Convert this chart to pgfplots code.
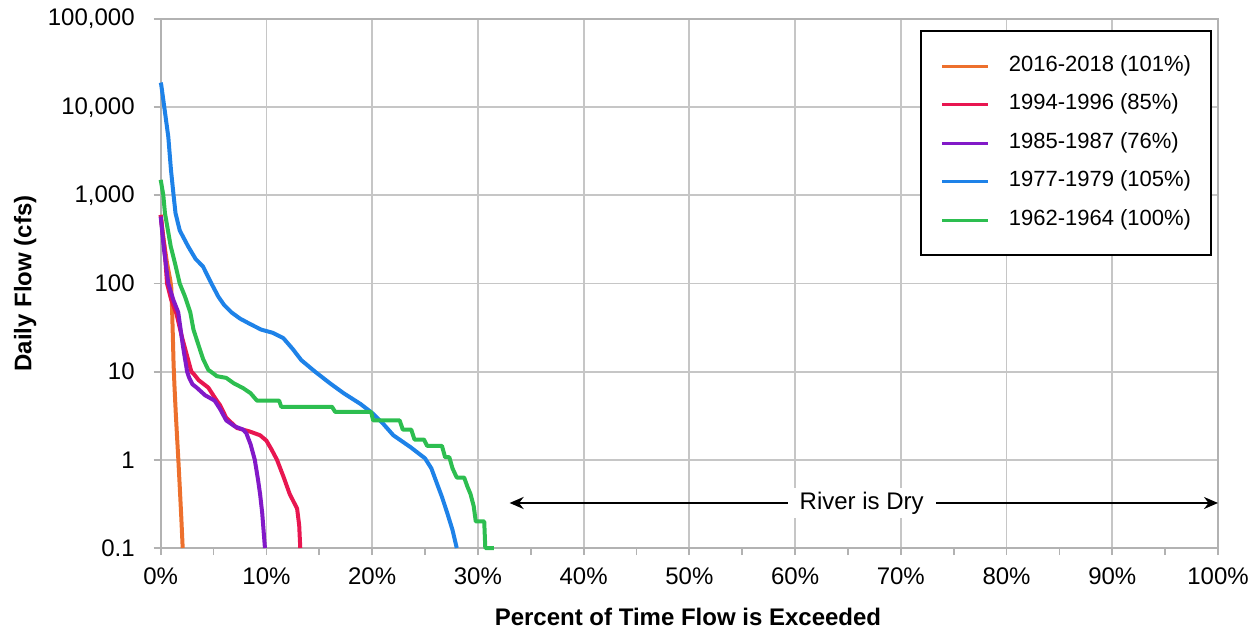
\documentclass[border=0pt]{standalone}
\usepackage{fontspec}
\setmainfont{Liberation Sans}
\usepackage{pgfplots}
\pgfplotsset{compat=1.18}
\usetikzlibrary{arrows.meta}
\definecolor{cOrange}{RGB}{237,112,45}
\definecolor{cRed}{RGB}{232,22,80}
\definecolor{cPurple}{RGB}{130,25,200}
\definecolor{cBlue}{RGB}{30,130,232}
\definecolor{cGreen}{RGB}{45,190,80}
\begin{document}
\begin{tikzpicture}
\begin{axis}[
  at={(0,0)}, anchor=south west,
  scale only axis, width=528.65bp, height=264.5bp,
  xmin=0, xmax=100, ymin=0.1, ymax=100000, ymode=log, log basis y=10,
  clip=false,
  xtick={0,10,20,30,40,50,60,70,80,90,100},
  xticklabels={0\%,10\%,20\%,30\%,40\%,50\%,60\%,70\%,80\%,90\%,100\%},
  minor xtick={5,15,25,35,45,55,65,75,85,95},
  ytick={0.1,1,10,100,1000,10000,100000},
  yticklabels={0.1,1,10,100,{1,000},{10,000},{100,000}},
  yminorticks=false,
  grid=major, major grid style={draw=gray!45, line width=0.9bp},
  axis line style={draw=gray!60, line width=0.9bp},
  every tick/.style={draw=gray!60, line width=0.9bp},
  tick align=outside, major tick length=3.5bp, minor tick length=3.5bp,
  xtick pos=bottom, ytick pos=left,
  tick label style={font=\fontsize{12bp}{14bp}\selectfont, text=black},
  xticklabel style={yshift=-3bp},
  yticklabel style={xshift=-6bp},
  xlabel={Percent of Time Flow is Exceeded},
  ylabel={Daily Flow (cfs)},
  label style={font=\fontsize{12bp}{14bp}\selectfont\bfseries},
  xlabel style={at={(axis description cs:0.4987,-0.1304)}, anchor=center},
  ylabel style={at={(axis description cs:-0.1283,0.5)}, anchor=center, rotate=0},
  legend cell align=left,
  legend image code/.code={\draw[#1, line width=1.5bp] (0bp,0bp) -- (23bp,0bp);},
  legend style={at={(axis description cs:0.718,0.979)}, anchor=north west,
    draw=black, line width=1bp, fill=white,
    font=\fontsize{11bp}{13bp}\selectfont,
    inner xsep=10bp, inner ysep=12.5bp, row sep=9.25bp, column sep=9.5bp,
    nodes={inner sep=0bp, text height=7.5bp, text depth=2.5bp}},
  every axis plot/.append style={line width=2bp, line join=round},
]
% 2016-2018
\addplot[cOrange, no marks] coordinates {
(0,600)(0.3,300)(0.6,170)(0.9,110)(1.0,90)(1.08,50)(1.15,25)(1.22,12)(1.3,7)
(1.42,3.5)(1.55,1.8)(1.67,1)(1.8,0.5)(1.95,0.22)(2.08,0.1)};
\addlegendentry{2016-2018 (101\%)}
% 1994-1996
\addplot[cRed, no marks] coordinates {
(0,600)(0.2,350)(0.35,263)(0.6,100)(1.0,65)(1.5,45)(2.0,25)(2.5,15)(2.9,10)
(3.1,9.5)(3.6,8)(4.5,6.6)(5.3,4.7)(5.6,4.2)(6.2,3.0)(7.2,2.3)(8.4,2.1)(9.4,1.9)
(10,1.65)(10.5,1.3)(11,1.0)(11.6,0.65)(12.2,0.41)(12.9,0.28)(13.1,0.18)(13.2,0.1)};
\addlegendentry{1994-1996 (85\%)}
% 1985-1987
\addplot[cPurple, no marks] coordinates {
(0,575)(0.3,250)(0.72,100)(1.2,65)(1.66,47)(2.1,19.6)(2.5,10)(2.7,8.5)(3.0,7.2)
(3.4,6.6)(4.2,5.4)(5.1,4.7)(5.6,3.8)(6.2,2.8)(7.0,2.4)(7.8,2.2)(8.1,2.0)(8.5,1.5)
(8.9,1.0)(9.2,0.6)(9.4,0.41)(9.6,0.25)(9.86,0.1)};
\addlegendentry{1985-1987 (76\%)}
% 1977-1979
\addplot[cBlue, no marks] coordinates {
(0,19000)(0.05,18000)(0.34,10000)(0.72,4600)(0.97,1950)(1.22,1000)(1.4,630)(1.8,400)(2.6,263)
(3.3,190)(4.0,156)(4.8,100)(5.45,71)(6.0,57)(6.7,47)(7.5,40)(8.4,35)(9.5,30)
(10.6,27.6)(11.6,24)(12.5,18)(13.3,13.5)(14.6,10)(16.0,7.4)(17.3,5.7)(18.9,4.3)
(20.0,3.4)(21.0,2.6)(22.0,1.9)(23.6,1.4)(25.0,1.04)(25.6,0.8)(26.1,0.55)(26.6,0.38)
(27.1,0.25)(27.6,0.16)(28.0,0.1)};
\addlegendentry{1977-1979 (105\%)}
% 1962-1964
\addplot[cGreen, no marks] coordinates {
(0,1500)(0.25,1000)(0.4,630)(0.95,263)(1.35,170)(1.8,100)(2.3,71)(2.8,47)(3.1,30)
(3.6,19.6)(4.0,14)(4.5,10.5)(5.0,9.5)(5.3,8.9)(6.2,8.5)(6.9,7.4)(7.8,6.5)(8.5,5.7)
(9.1,4.7)(11.2,4.7)(11.4,4.0)(16.2,4.0)(16.5,3.5)(19.9,3.5)(20.1,2.8)(22.6,2.8)
(22.9,2.2)(23.7,2.2)(24.0,1.7)(24.9,1.7)(25.2,1.44)(26.6,1.44)(26.9,1.07)(27.3,1.07)
(27.6,0.8)(28.0,0.63)(28.7,0.63)(29.0,0.5)(29.3,0.41)(29.6,0.3)(29.8,0.2)(30.6,0.2)
(30.7,0.1)(31.5,0.1)};
\addlegendentry{1962-1964 (100\%)}
\draw[{Stealth[length=7bp,width=6bp]}-{Stealth[length=7bp,width=6bp]}, line width=1.1bp, black]
  (axis cs:33,0.324) -- (axis cs:100,0.324);
\node[fill=white, inner xsep=6bp, inner ysep=2bp, font=\fontsize{12bp}{14bp}\selectfont]
  at (axis cs:66.3,0.324) {River is Dry};
\end{axis}
\pgfresetboundingbox
\path[use as bounding box] (-80.35bp,-43bp) rectangle (549.65bp,274bp);
\end{tikzpicture}
\end{document}
